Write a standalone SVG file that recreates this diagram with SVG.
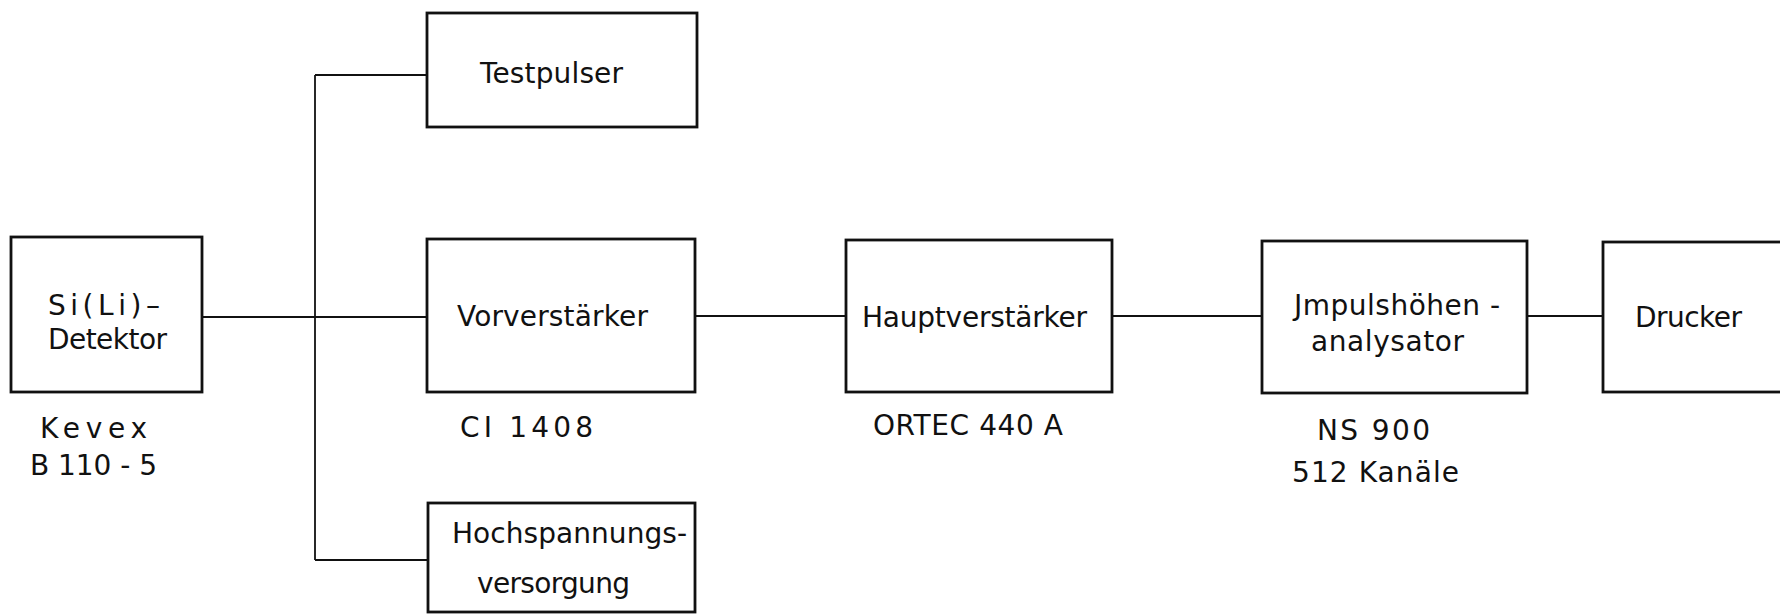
<svg xmlns="http://www.w3.org/2000/svg" width="1780" height="614" viewBox="0 0 1780 614">
  <style>
    .box { fill: #ffffff; stroke: #111111; stroke-width: 2.8; }
    .wire { fill: none; stroke: #111111; stroke-width: 1.8; }
    .lbl { font-family: "DejaVu Sans", "Liberation Sans", sans-serif; font-size: 28px; fill: #111111; }
  </style>
  <rect width="1780" height="614" fill="#ffffff"/>

  <!-- connectors -->
  <g id="connectors">
    <line class="wire" x1="202" y1="317" x2="427" y2="317"/>
    <line class="wire" x1="315" y1="75" x2="315" y2="560"/>
    <line class="wire" x1="315" y1="75" x2="427" y2="75"/>
    <line class="wire" x1="315" y1="560" x2="428" y2="560"/>
    <line class="wire" x1="695" y1="316" x2="846" y2="316"/>
    <line class="wire" x1="1112" y1="316" x2="1262" y2="316"/>
    <line class="wire" x1="1527" y1="316" x2="1603" y2="316"/>
  </g>

  <!-- detector -->
  <g id="detektor">
    <rect class="box" x="11" y="237" width="191" height="155"/>
    <text class="lbl" x="48" y="315" textLength="112" lengthAdjust="spacing">Si(Li)–</text>
    <text class="lbl" x="48" y="349" textLength="119" lengthAdjust="spacing">Detektor</text>
    <text class="lbl" x="40" y="438" textLength="107" lengthAdjust="spacing">Kevex</text>
    <text class="lbl" x="30" y="475" textLength="127" lengthAdjust="spacing">B 110 - 5</text>
  </g>

  <!-- test pulser -->
  <g id="testpulser">
    <rect class="box" x="427" y="13" width="270" height="114"/>
    <text class="lbl" x="480" y="83" textLength="143" lengthAdjust="spacing">Testpulser</text>
  </g>

  <!-- preamplifier -->
  <g id="vorverstaerker">
    <rect class="box" x="427" y="239" width="268" height="153"/>
    <text class="lbl" x="457" y="326" textLength="191" lengthAdjust="spacing">Vorverstärker</text>
    <text class="lbl" x="460" y="437" textLength="133" lengthAdjust="spacing">CI 1408</text>
  </g>

  <!-- high voltage supply -->
  <g id="hochspannung">
    <rect class="box" x="428" y="503" width="267" height="109"/>
    <text class="lbl" x="452" y="543" textLength="235" lengthAdjust="spacing">Hochspannungs-</text>
    <text class="lbl" x="477" y="593" textLength="153" lengthAdjust="spacing">versorgung</text>
  </g>

  <!-- main amplifier -->
  <g id="hauptverstaerker">
    <rect class="box" x="846" y="240" width="266" height="152"/>
    <text class="lbl" x="862" y="327" textLength="225" lengthAdjust="spacing">Hauptverstärker</text>
    <text class="lbl" x="873" y="435" textLength="190" lengthAdjust="spacing">ORTEC 440 A</text>
  </g>

  <!-- pulse height analyser -->
  <g id="analysator">
    <rect class="box" x="1262" y="241" width="265" height="152"/>
    <text class="lbl" x="1294" y="315" textLength="206" lengthAdjust="spacing">Jmpulshöhen -</text>
    <text class="lbl" x="1311" y="351" textLength="153" lengthAdjust="spacing">analysator</text>
    <text class="lbl" x="1317" y="440" textLength="113" lengthAdjust="spacing">NS 900</text>
    <text class="lbl" x="1292" y="482" textLength="167" lengthAdjust="spacing">512 Kanäle</text>
  </g>

  <!-- printer -->
  <g id="drucker">
    <rect class="box" x="1603" y="242" width="190" height="150"/>
    <text class="lbl" x="1635" y="327" textLength="107" lengthAdjust="spacing">Drucker</text>
  </g>
</svg>
